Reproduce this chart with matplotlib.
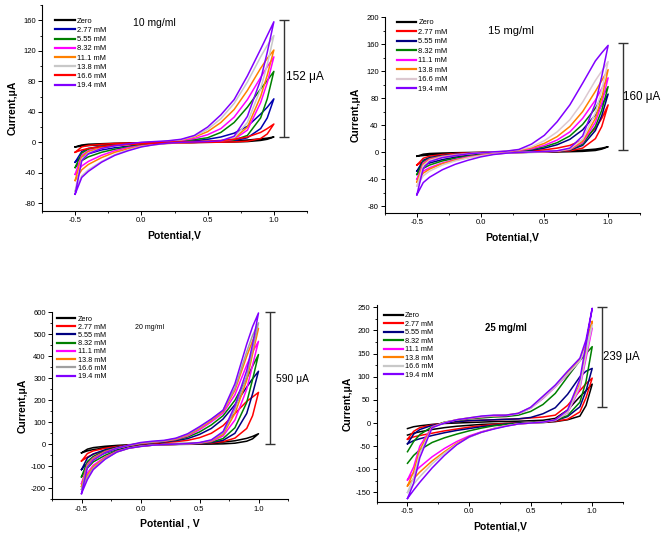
import matplotlib
matplotlib.use("Agg")
import matplotlib.pyplot as plt
from matplotlib.ticker import MultipleLocator, FormatStrFormatter

plt.rcParams['font.family'] = ['Liberation Sans', 'DejaVu Sans']
plt.rcParams['axes.unicode_minus'] = False

# potential grid (V) shared by both sweep branches
E = [-0.5, -0.45, -0.4, -0.3, -0.2, -0.1, 0.0, 0.1, 0.2, 0.3, 0.4, 0.5, 0.6, 0.7, 0.8, 0.9, 0.95, 1.0]
labels = ["Zero", "2.77 mM", "5.55 mM", "8.32 mM", "11.1 mM", "13.8 mM", "16.6 mM", "19.4 mM"]

# ---- 10 mg/ml ----
colors10 = ["black", "#0000b0", "#008000", "#ff00ff", "#ff8000", "#c8c8c8", "#ff0000", "#8000ff"]
up10 = [
    [-6, -3.5, -2.5, -1.8, -1.2, -0.8, -0.5, -0.2, 0, 0.3, 0.6, 1, 1.5, 2, 3, 4.5, 5.5, 7],
    [-26, -12, -8, -5, -3, -2, -1, -0.3, 0.3, 1, 2, 4, 7, 12, 21, 37, 46, 57],
    [-33, -14, -9, -5.5, -3.5, -2, -1, 0, 0.7, 2, 3.5, 6, 13, 26, 46, 70, 81, 93],
    [-42, -17, -11, -6.5, -4, -2.5, -1, 0, 1, 2.5, 5, 10, 18, 33, 56, 85, 99, 112],
    [-50, -19, -12, -7, -4.5, -2.5, -1, 0, 1.2, 3, 7, 14, 26, 43, 68, 97, 110, 121],
    [-64, -22, -14, -8, -5, -3, -1, 0, 1.5, 3.5, 8, 17, 31, 51, 79, 112, 127, 140],
    [-13, -6, -4, -2.5, -1.5, -1, -0.5, 0, 0.3, 0.6, 1, 1.5, 2.5, 4, 7, 13, 18, 24],
    [-68, -24, -15, -8, -4.5, -2, 0, 1, 2, 4, 9, 20, 36, 56, 87, 122, 140, 158],
]
lo10 = [
    [-6, -5, -4.2, -3.2, -2.5, -1.8, -1.3, -0.9, -0.6, -0.4, -0.2, 0, 0.2, 0.5, 1, 2.5, 4, 7],
    [-26, -19, -15, -10, -7, -5, -3, -2, -1, -0.5, 0, 0.3, 0.7, 2, 6, 18, 32, 57],
    [-33, -24, -19, -13, -9, -6, -3.5, -2, -1, -0.5, 0, 0.5, 1, 3, 9, 32, 57, 93],
    [-42, -31, -25, -17, -11, -7, -4.5, -2.5, -1.2, -0.5, 0, 0.5, 1, 4, 16, 52, 78, 112],
    [-50, -36, -29, -20, -13, -8.5, -5, -3, -1.5, -0.5, 0, 0.6, 1.5, 5, 20, 60, 88, 121],
    [-64, -44, -36, -25, -16, -10, -5.5, -3, -1.5, -0.5, 0.2, 0.8, 1.8, 6, 26, 70, 102, 140],
    [-13, -10, -8, -5.5, -4, -3, -2, -1.3, -0.8, -0.5, -0.3, 0, 0.2, 0.6, 1.5, 5, 11, 24],
    [-68, -46, -38, -26, -17, -11, -6, -3, -1, 0, 0.5, 1, 2, 8, 34, 82, 118, 158],
]

# ---- 15 mg/ml ----
colors15 = ["black", "#ff0000", "#000080", "#008000", "#ff00ff", "#ff8000", "#dcc8d0", "#8000ff"]
up15 = [
    [-6, -3, -2, -1.3, -0.8, -0.5, -0.2, 0, 0.2, 0.4, 0.7, 1, 1.5, 2.2, 3, 4.5, 6, 8],
    [-19, -9, -6, -3.5, -2, -1, -0.5, 0, 0.5, 1, 2, 3.5, 6, 10, 18, 35, 50, 70],
    [-28, -12, -8, -5, -3, -2, -1, 0, 0.6, 1.5, 3, 6, 11, 19, 33, 55, 70, 86],
    [-33, -14, -9, -5.5, -3.5, -2, -1, 0, 0.8, 2, 4, 8, 14, 24, 41, 65, 81, 97],
    [-40, -16, -10, -6, -3.5, -2, -1, 0, 1, 2.5, 5, 10, 18, 30, 50, 77, 94, 110],
    [-44, -18, -11, -6.5, -4, -2.5, -1, 0, 1.2, 3, 6.5, 13, 23, 38, 60, 90, 106, 122],
    [-50, -20, -12, -7, -4.5, -2.5, -1, 0, 1.5, 3.5, 8, 17, 30, 48, 74, 106, 120, 134],
    [-63, -24, -14, -8, -5, -2.5, -1, 0.5, 1.5, 4, 12, 25, 45, 70, 102, 135, 147, 158],
]
lo15 = [
    [-6, -5, -4.2, -3.2, -2.4, -1.8, -1.3, -0.9, -0.6, -0.4, -0.2, 0, 0.3, 0.7, 1.2, 2.5, 4.5, 8],
    [-19, -14, -11, -7.5, -5, -3.5, -2, -1.2, -0.6, -0.2, 0, 0.3, 0.8, 2, 6, 20, 38, 70],
    [-28, -20, -16, -11, -7.5, -5, -3, -1.8, -0.9, -0.3, 0, 0.4, 1, 3, 10, 32, 54, 86],
    [-33, -24, -19, -13, -9, -6, -3.5, -2, -1, -0.3, 0, 0.5, 1.2, 3.5, 12, 38, 62, 97],
    [-40, -28, -23, -16, -11, -7, -4.5, -2.5, -1.2, -0.4, 0, 0.6, 1.4, 4, 14, 44, 72, 110],
    [-44, -31, -25, -17, -12, -8, -5, -2.8, -1.3, -0.4, 0, 0.7, 1.6, 4.5, 16, 50, 80, 122],
    [-50, -35, -28, -19, -13, -8.5, -5.5, -3, -1.5, -0.5, 0.2, 0.8, 1.8, 5, 19, 58, 92, 134],
    [-63, -45, -37, -26, -18, -12, -7, -3.5, -1.5, -0.3, 0.3, 1, 2, 6, 24, 72, 112, 158],
]

# ---- 20 mg/ml ----
colors20 = ["black", "#ff0000", "#000080", "#008000", "#ff00ff", "#ff8000", "#a0a0a0", "#8000ff"]
up20 = [
    [-39, -22, -15, -9, -5, -2, 0, 1, 2, 3, 4, 5, 7, 10, 16, 27, 36, 48],
    [-76, -42, -30, -18, -10, -4, 1, 5, 8, 12, 18, 30, 50, 85, 140, 195, 215, 236],
    [-115, -62, -44, -25, -13, -5, 2, 7, 11, 17, 26, 45, 72, 115, 180, 260, 298, 332],
    [-148, -78, -55, -30, -15, -5, 3, 8, 13, 20, 33, 56, 88, 130, 200, 300, 355, 408],
    [-179, -90, -62, -33, -17, -5, 4, 9, 14, 22, 38, 66, 102, 142, 225, 360, 420, 468],
    [-192, -95, -66, -35, -18, -5, 5, 10, 15, 24, 42, 72, 108, 150, 245, 400, 470, 527],
    [-205, -100, -70, -38, -19, -5, 6, 11, 16, 26, 45, 76, 113, 155, 255, 420, 495, 552],
    [-224, -105, -72, -38, -18, -4, 8, 14, 18, 28, 48, 80, 115, 155, 275, 455, 535, 597],
]
lo20 = [
    [-39, -30, -24, -16, -11, -7, -4, -2, -1, -0.5, 0, 0.5, 1, 2, 5, 14, 25, 48],
    [-76, -58, -45, -29, -18, -11, -6, -3, -1, 0, 1, 3, 6, 12, 28, 72, 130, 236],
    [-115, -85, -64, -40, -24, -14, -7, -3, -1, 0, 1, 3, 8, 18, 50, 140, 230, 332],
    [-148, -108, -80, -50, -29, -16, -8, -4, -1, 0, 1, 4, 10, 26, 75, 190, 295, 408],
    [-179, -130, -95, -58, -32, -17, -9, -4, -1, 0, 1.5, 5, 13, 38, 110, 250, 360, 468],
    [-192, -140, -102, -62, -34, -18, -9, -4, -1, 0, 2, 6, 16, 45, 140, 290, 410, 527],
    [-205, -150, -108, -65, -35, -18, -9, -4, -1, 0, 2, 7, 18, 52, 160, 310, 430, 552],
    [-224, -160, -115, -68, -35, -18, -10, -4, -1, 1, 3, 8, 20, 58, 175, 335, 455, 597],
]

# ---- 25 mg/ml ----
colors25 = ["black", "#ff0000", "#000080", "#008000", "#ff00ff", "#ff8000", "#c8c8c8", "#8000ff"]
up25 = [
    [-12, -8, -6, -3, -1, 0, 1, 2, 3, 3.5, 4, 5, 6, 10, 28, 57, 70, 84],
    [-35, -18, -10, -4, 0, 3, 5, 6, 7, 8, 9, 11, 13, 17, 38, 70, 85, 97],
    [-45, -24, -14, -5, 0, 3, 5, 6, 7, 8, 9, 12, 20, 33, 62, 100, 112, 118],
    [-62, -40, -25, -8, 2, 6, 9, 11, 13, 14, 17, 25, 40, 64, 100, 135, 150, 165],
    [-123, -95, -50, -8, 1, 7, 10, 13, 15, 16, 20, 32, 53, 78, 105, 135, 160, 205],
    [-136, -105, -58, -9, 1, 7, 11, 14, 16, 17, 21, 33, 56, 80, 108, 137, 170, 220],
    [-150, -118, -66, -10, 1, 7, 11, 14, 16, 17, 20, 32, 54, 79, 106, 134, 165, 212],
    [-163, -130, -75, -10, 0, 7, 11, 15, 17, 17, 21, 34, 58, 82, 112, 140, 180, 248],
]
lo25 = [
    [-26, -22, -19, -14, -10, -7, -5, -3, -2, -1, 0, 0.5, 1, 3, 7, 15, 38, 84],
    [-35, -30, -27, -22, -17, -13, -9, -6, -3, -1, 0, 1, 2, 4, 8, 24, 55, 97],
    [-45, -38, -34, -27, -21, -16, -12, -8, -5, -2, 0, 1, 2, 5, 14, 35, 70, 118],
    [-87, -70, -58, -42, -32, -24, -17, -11, -6, -3, -1, 1, 3, 6, 16, 45, 90, 165],
    [-123, -108, -95, -73, -55, -40, -28, -19, -12, -6, -2, 0, 2, 6, 22, 75, 140, 205],
    [-136, -120, -106, -82, -62, -44, -30, -20, -12, -6, -2, 0, 2, 7, 25, 85, 155, 220],
    [-150, -132, -116, -88, -65, -46, -31, -20, -12, -6, -2, 0, 2, 6, 23, 80, 148, 212],
    [-163, -145, -128, -97, -70, -47, -30, -20, -13, -7, -2, 0, 2, 7, 28, 95, 170, 248],
]

W, H = 661, 537


def px_axes(left, top, right, bottom):
    return [left / W, (H - bottom) / H, (right - left) / W, (bottom - top) / H]


panels = [
    dict(rect=px_axes(42, 5, 307, 211), ylim=(-90, 180), ymaj=40, colors=colors10, up=up10, lo=lo10,
         title="10 mg/ml", tpos=(-0.06, 156), tsize=7.5, tweight="normal",
         bar=(1.075, 7, 160), barlabel="152 \u03bcA", blpos=(1.09, 85), blsize=8.6,
         xlabel="Potential,V", leg=(55, 17.5), legfs=5.4, legsp=0.26),
    dict(rect=px_axes(385, 17, 640, 213), ylim=(-90, 200), ymaj=40, colors=colors15, up=up15, lo=lo15,
         title="15 mg/ml", tpos=(0.06, 180), tsize=8, tweight="normal",
         bar=(1.114, 2.5, 161), barlabel="160 \u03bcA", blpos=(1.12, 82), blsize=8.4,
         xlabel="Potential,V", leg=(396.7, 19), legfs=5.4, legsp=0.3),
    dict(rect=px_axes(52, 312.3, 288, 499.3), ylim=(-250, 600), ymaj=100, colors=colors20, up=up20, lo=lo20,
         title="20 mg/ml", tpos=(-0.05, 529), tsize=5, tweight="normal",
         bar=(1.1, 0, 600), barlabel="590 \u03bcA", blpos=(1.15, 299), blsize=7.4,
         xlabel="Potential , V", leg=(56.7, 315.5), legfs=5.2, legsp=0.16),
    dict(rect=px_axes(376.7, 305, 623, 501.7), ylim=(-170, 255), ymaj=50, colors=colors25, up=up25, lo=lo25,
         title="25 mg/ml", tpos=(0.13, 206), tsize=6.9, tweight="bold",
         bar=(1.08, 34, 250), barlabel="239 \u03bcA", blpos=(1.09, 142), blsize=8.3,
         xlabel="Potential,V", leg=(384, 312), legfs=5.2, legsp=0.2),
]

fig = plt.figure(figsize=(W / 100, H / 100), dpi=100)

for p in panels:
    ax = fig.add_axes(p["rect"])
    for lab, col, u, l in zip(labels, p["colors"], p["up"], p["lo"]):
        ax.plot(E + E[::-1], l + u[::-1], color=col, lw=1.1, label=lab)

    ax.set_xlim(-0.75, 1.25)
    ax.set_ylim(*p["ylim"])
    ax.xaxis.set_major_locator(MultipleLocator(0.5))
    ax.xaxis.set_minor_locator(MultipleLocator(0.25))
    ax.xaxis.set_major_formatter(FormatStrFormatter("%.1f"))
    ax.yaxis.set_major_locator(MultipleLocator(p["ymaj"]))
    ax.yaxis.set_minor_locator(MultipleLocator(p["ymaj"] / 2))
    ax.tick_params(which="major", direction="out", length=3, width=0.7, labelsize=5.5, pad=1.5)
    ax.tick_params(which="minor", direction="out", length=1.6, width=0.6)
    for s in ("top", "right"):
        ax.spines[s].set_visible(False)
    for s in ("left", "bottom"):
        ax.spines[s].set_linewidth(0.8)

    l, b, w, h = p["rect"]
    ax.set_xlabel(p["xlabel"], fontsize=7.5, fontweight="bold")
    ax.xaxis.label.set_va("center")
    ax.xaxis.set_label_coords(0.5, -24.5 / (h * H))
    ax.set_ylabel("Current,\u03bcA", fontsize=7.5, fontweight="bold")
    ax.yaxis.label.set_va("center")
    ax.yaxis.set_label_coords(-29.5 / (w * W), 0.5)

    ax.text(p["tpos"][0], p["tpos"][1], p["title"], fontsize=p["tsize"], fontweight=p["tweight"],
            ha="left", va="center")

    bx, y0, y1 = p["bar"]
    ax.errorbar([bx], [(y0 + y1) / 2], yerr=[(y1 - y0) / 2], fmt="none", ecolor="#333333",
                elinewidth=1.0, capsize=3.6, capthick=1.0, clip_on=False)
    ax.text(p["blpos"][0], p["blpos"][1], p["barlabel"], fontsize=p["blsize"], ha="left", va="center",
            clip_on=False)

    lx = (p["leg"][0] / W - l) / w
    ly = ((H - p["leg"][1]) / H - b) / h
    ax.legend(loc="upper left", bbox_to_anchor=(lx, ly), frameon=False, fontsize=p["legfs"],
              handlelength=2.6, handletextpad=0.3, labelspacing=p["legsp"], borderpad=0, borderaxespad=0)
    for line in ax.get_legend().get_lines():
        line.set_linewidth(1.6)

fig.savefig("out.png", dpi=100)
